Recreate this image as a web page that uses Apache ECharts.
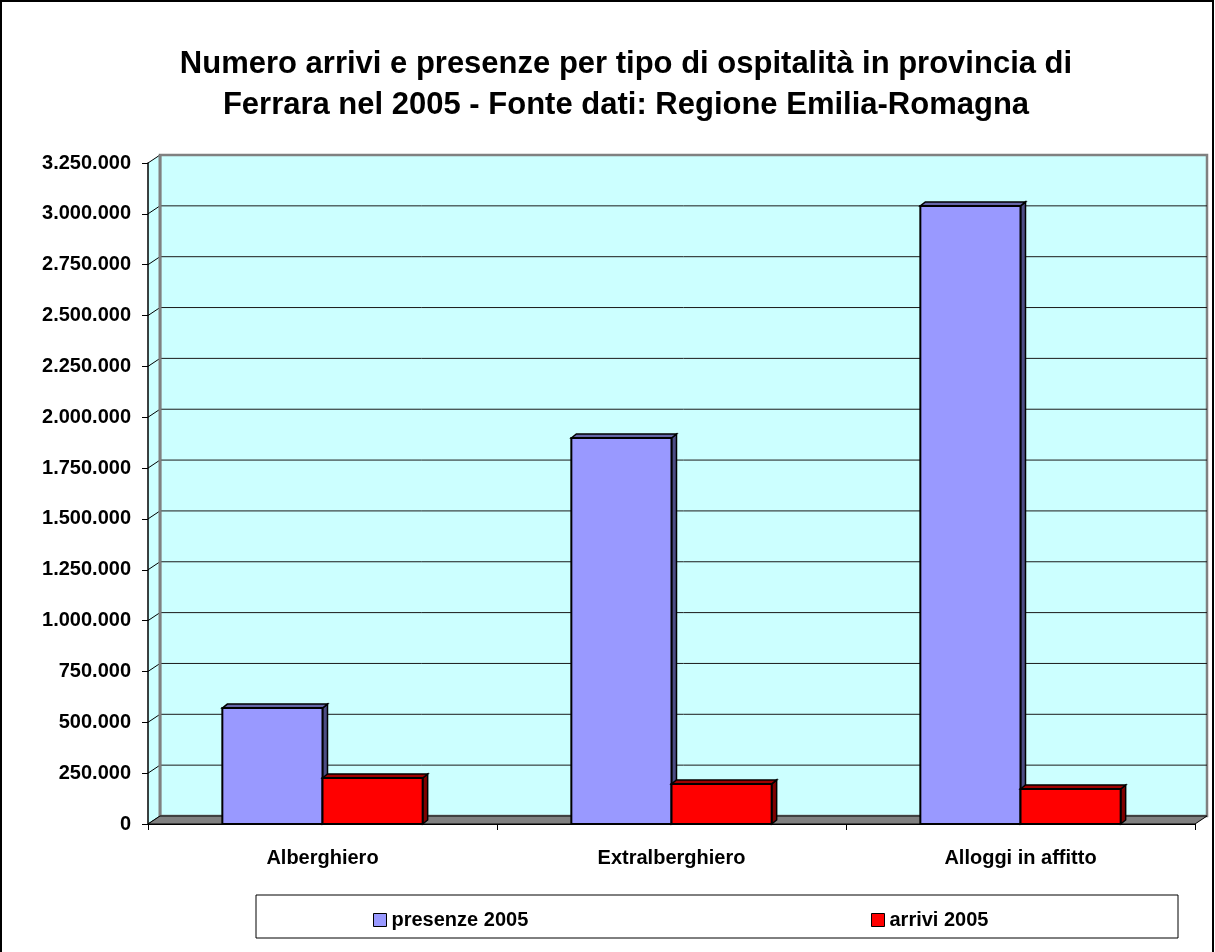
<!DOCTYPE html>
<html>
<head>
<meta charset="utf-8">
<script src="https://cdn.jsdelivr.net/npm/echarts@6/dist/echarts.min.js"></script>
<style>
  html, body { margin: 0; padding: 0; background: #fff; }
  #chart { width: 1215px; height: 952px; }
</style>
</head>
<body>
<div id="chart"></div>
<script>
// dati
const categories = ['Alberghiero', 'Extralberghiero', 'Alloggi in affitto'];
const presenze = [570000, 1898000, 3039000];
const arrivi = [226000, 197000, 172000];
const yTicks = [0, 250000, 500000, 750000, 1000000, 1250000, 1500000, 1750000,
  2000000, 2250000, 2500000, 2750000, 3000000, 3250000];

// profondità pareti e barre (effetto 3D)
const WALL_DX = 12, WALL_DY = -8;
const BAR_DX = 5, BAR_DY = -4;
const FONT = 'Liberation Sans, Arial, sans-serif';

function fmt(v) {
  return String(v).replace(/\B(?=(\d{3})+(?!\d))/g, '.');
}

function wallRender(params, api) {
  const cs = params.coordSys;
  const x = cs.x, w = cs.width;
  const top = api.coord([0, yTicks[yTicks.length - 1]])[1];
  const bottom = api.coord([0, 0])[1];
  const children = [];
  // parete di fondo
  children.push({
    type: 'rect',
    shape: { x: x + WALL_DX, y: top + WALL_DY, width: w, height: bottom - top },
    style: { fill: '#CCFFFF', stroke: '#808080', lineWidth: 2.5 }
  });
  // parete laterale
  children.push({
    type: 'polygon',
    shape: { points: [[x, top], [x + WALL_DX, top + WALL_DY], [x + WALL_DX, bottom + WALL_DY], [x, bottom]] },
    style: { fill: '#CCFFFF', stroke: null }
  });
  yTicks.forEach(function (t) {
    const y = api.coord([0, t])[1];
    if (t > 0 && t < yTicks[yTicks.length - 1]) {
      children.push({
        type: 'line',
        shape: { x1: x + WALL_DX, y1: y + WALL_DY, x2: x + w + WALL_DX, y2: y + WALL_DY },
        style: { stroke: '#1a1a1a', lineWidth: 1 }
      });
    }
    children.push({
      type: 'line',
      shape: { x1: x, y1: y, x2: x + WALL_DX, y2: y + WALL_DY },
      style: { stroke: '#000', lineWidth: 1 }
    });
  });
  children.push({
    type: 'line',
    shape: { x1: x + WALL_DX, y1: top + WALL_DY, x2: x + WALL_DX, y2: bottom + WALL_DY },
    style: { stroke: '#808080', lineWidth: 3 }
  });
  // pavimento
  children.push({
    type: 'polygon',
    shape: { points: [[x, bottom], [x + WALL_DX, bottom + WALL_DY], [x + w + WALL_DX, bottom + WALL_DY], [x + w, bottom]] },
    style: { fill: '#808080', stroke: '#000', lineWidth: 1 }
  });
  return { type: 'group', children: children };
}

function bar3d(side, face, topCol, sideCol) {
  return function (params, api) {
    const idx = api.value(0), v = api.value(1);
    const base = api.coord([idx, 0]);
    const peak = api.coord([idx, v]);
    const bw = api.size([1, 0])[0] * 0.287;
    const x0 = side < 0 ? base[0] - bw : base[0];
    const x1 = x0 + bw;
    const y0 = peak[1], y1 = base[1];
    return {
      type: 'group',
      children: [
        {
          type: 'polygon',
          shape: { points: [[x1, y0], [x1 + BAR_DX, y0 + BAR_DY], [x1 + BAR_DX, y1 + BAR_DY], [x1, y1]] },
          style: { fill: sideCol, stroke: '#000', lineWidth: 1.5 }
        },
        {
          type: 'polygon',
          shape: { points: [[x0, y0], [x0 + BAR_DX, y0 + BAR_DY], [x1 + BAR_DX, y0 + BAR_DY], [x1, y0]] },
          style: { fill: topCol, stroke: '#000', lineWidth: 1.5 }
        },
        {
          type: 'rect',
          shape: { x: x0, y: y0, width: bw, height: y1 - y0 },
          style: { fill: face, stroke: '#000', lineWidth: 2 }
        }
      ]
    };
  };
}

const chart = echarts.init(document.getElementById('chart'));

const legendText = { fontFamily: FONT, fontSize: 20, fontWeight: 'bold', color: '#000' };

const option = {
  animation: false,
  backgroundColor: '#fff',
  title: {
    text: 'Numero arrivi e presenze per tipo di ospitalità in provincia di\nFerrara nel 2005 - Fonte dati: Regione Emilia-Romagna',
    left: 621,
    textAlign: 'center',
    top: 39,
    textStyle: {
      fontFamily: FONT,
      fontSize: 31,
      fontWeight: 'bold',
      color: '#000',
      lineHeight: 41
    }
  },
  legend: [
    {
      data: ['presenze 2005'],
      left: 368,
      top: 905,
      icon: 'rect',
      itemWidth: 13,
      itemHeight: 13,
      itemGap: 6,
      itemStyle: { borderColor: '#000', borderWidth: 1 },
      textStyle: legendText
    },
    {
      data: ['arrivi 2005'],
      left: 866,
      top: 905,
      icon: 'rect',
      itemWidth: 13,
      itemHeight: 13,
      itemGap: 6,
      itemStyle: { borderColor: '#000', borderWidth: 1 },
      textStyle: legendText
    }
  ],
  graphic: [
    {
      type: 'rect',
      z: -10,
      shape: { x: 1, y: 1, width: 1212, height: 970 },
      style: { fill: null, stroke: '#000', lineWidth: 2 }
    },
    {
      type: 'rect',
      z: 0,
      shape: { x: 256, y: 895, width: 922, height: 43 },
      style: { fill: '#fff', stroke: '#000', lineWidth: 1 }
    }
  ],
  grid: {
    left: 148,
    right: 20,
    top: 163,
    bottom: 128,
    containLabel: false
  },
  xAxis: {
    type: 'category',
    data: categories,
    axisLine: { lineStyle: { color: '#000', width: 1 } },
    axisTick: { show: true, length: 6, lineStyle: { color: '#000' } },
    axisLabel: {
      margin: 24,
      fontFamily: FONT,
      fontSize: 20,
      fontWeight: 'bold',
      color: '#000'
    },
    splitLine: { show: false },
    z: 5
  },
  yAxis: {
    type: 'value',
    min: 0,
    max: 3250000,
    interval: 250000,
    axisLine: { show: true, lineStyle: { color: '#000', width: 1.5 } },
    axisTick: { show: true, length: 6, lineStyle: { color: '#000' } },
    axisLabel: {
      margin: 17,
      formatter: fmt,
      fontFamily: FONT,
      fontSize: 20,
      fontWeight: 'bold',
      color: '#000'
    },
    splitLine: { show: false },
    z: 5
  },
  series: [
    {
      name: 'pareti',
      type: 'custom',
      silent: true,
      clip: false,
      z: 1,
      renderItem: wallRender,
      data: [[0, 0]]
    },
    {
      name: 'presenze 2005',
      type: 'custom',
      clip: false,
      z: 3,
      itemStyle: { color: '#9999FF' },
      renderItem: bar3d(-1, '#9999FF', '#6666A8', '#4D4D85'),
      encode: { x: 0, y: 1 },
      data: categories.map(function (c, i) { return [i, presenze[i]]; })
    },
    {
      name: 'arrivi 2005',
      type: 'custom',
      clip: false,
      z: 3,
      itemStyle: { color: '#FF0000' },
      renderItem: bar3d(1, '#FF0000', '#A00000', '#800000'),
      encode: { x: 0, y: 1 },
      data: categories.map(function (c, i) { return [i, arrivi[i]]; })
    }
  ]
};

chart.setOption(option);
</script>
</body>
</html>
